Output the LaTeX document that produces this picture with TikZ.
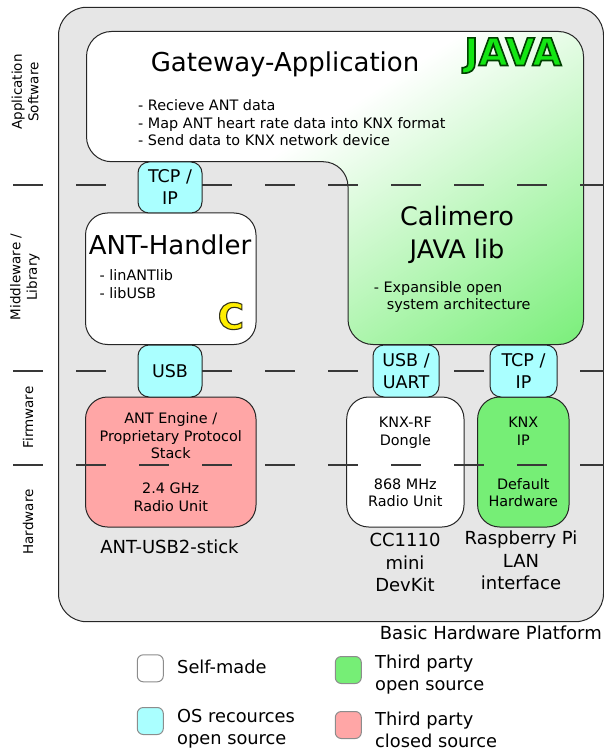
\documentclass[tikz,border=0pt]{standalone}
\usepackage{fontspec}
\setmainfont{DejaVu Sans}

\definecolor{platgray}{RGB}{230,230,230}
\definecolor{oscyan}{RGB}{170,255,255}
\definecolor{opengreen}{RGB}{118,238,118}
\definecolor{closedred}{RGB}{255,166,166}
\definecolor{javabright}{RGB}{20,230,20}
\definecolor{cyellow}{RGB}{255,238,0}

\pgfdeclareverticalshading{javafade}{100bp}{color(0bp)=(opengreen); color(14bp)=(opengreen); color(58bp)=(white); color(100bp)=(white)}

% text drawn filled and stroked
\newcommand{\outlined}[3]{\special{pdf:literal direct 2 Tr #1 w #2 RG}#3\special{pdf:literal direct 0 Tr}}

\begin{document}
\begin{tikzpicture}[x=1pt, y=-1pt,
    sysbox/.style={draw=black!85, line width=1pt, rounded corners=22pt, align=center, font=\fontsize{14.4}{17.5}\selectfont},
    osbox/.style={draw=black!85, line width=1pt, fill=oscyan, rounded corners=11pt, minimum width=64pt, minimum height=52pt, align=center, inner sep=0pt, font=\fontsize{17.5}{22}\selectfont},
    keybox/.style={draw=black!45, line width=1pt, rounded corners=6pt, minimum width=26pt, minimum height=27pt, inner sep=0pt},
    layerline/.style={draw=black!78, line width=1.6pt, dash pattern=on 30pt off 33pt},
    sidetext/.style={rotate=90, align=center, inner sep=0pt, font=\fontsize{13.5}{16.5}\selectfont},
    notetext/.style={align=left, inner sep=0pt, font=\fontsize{14.4}{17.5}\selectfont},
    titletext/.style={align=center, inner sep=0pt, font=\fontsize{26}{33}\selectfont},
    devlabel/.style={align=center, inner sep=0pt, font=\fontsize{18}{22.5}\selectfont},
    keytext/.style={align=left, anchor=west, inner sep=0pt, font=\fontsize{17.8}{22}\selectfont}]
  \useasboundingbox (0,0) rectangle (604,751);

  % Basic hardware platform
  \draw[line width=1pt, draw=black!85, fill=platgray, rounded corners=28pt] (58.5,7.3) rectangle (603.5,621.7);

  % Application + Calimero (JAVA)
  \path[draw=black!85, line width=1pt, shade, shading=javafade, shading angle=33, rounded corners=25pt]
    (86.5,31.5) -- (583.5,31.5) -- (583.5,344.5) -- (348,344.5) -- (348,161.7) -- (86.5,161.7) -- cycle;
  \node[titletext, anchor=base] (gateway) at (285,71.7) {Gateway-Application};
  \node[notetext, anchor=west] (gwtasks) at (138,122.7) {- Recieve ANT data\\- Map ANT heart rate data into KNX format\\- Send data to KNX network device};
  \node[inner sep=0pt, text=javabright, font=\fontsize{38}{38}\selectfont\bfseries] (java) at (513,55.5) {\outlined{1.6}{0 0.25 0}{JAVA}};
  \node[titletext, font=\fontsize{25.5}{33}\selectfont] (calimero) at (457,234.5) {Calimero\\JAVA lib};
  \node[notetext, anchor=west] (calitasks) at (373.6,297) {- Expansible open\\\hspace{13pt}system architecture};

  % ANT-Handler (C)
  \node[sysbox, fill=white, minimum width=170.5pt, minimum height=131.5pt] (handler) at (170.75,278.75) {};
  \node[titletext] (handlertitle) at (170,245) {ANT-Handler};
  \node[notetext, anchor=west] (handlerlibs) at (99.4,284) {- linANTlib\\- libUSB};
  \node[inner sep=0pt, text=cyellow, font=\fontsize{36}{36}\selectfont\bfseries] (clang) at (231,316) {\outlined{1.1}{0.2 0.2 0.1}{C}};

  % Firmware / Hardware
  \node[sysbox, fill=closedred, minimum width=170.5pt, minimum height=130pt] (antengine) at (170.75,462) {ANT Engine /\\Proprietary Protocol\\Stack\\[17.5pt]2.4 GHz\\Radio Unit};
  \node[sysbox, fill=white, minimum width=117.3pt, minimum height=130pt] (knxrf) at (405.35,462) {KNX-RF\\Dongle\\[26.5pt]868 MHz\\Radio Unit};
  \node[sysbox, fill=opengreen, minimum width=91.4pt, minimum height=130pt] (knxip) at (523.3,462) {KNX\\IP\\[26.5pt]Default\\Hardware};

  % layer borders
  \foreach \ly in {185,371,465}
    \draw[layerline] (13,\ly) -- (604,\ly);

  % OS resources
  \node[osbox, minimum height=51pt] (tcptop) at (170,187.5) {TCP /\\IP};
  \node[osbox] (usbant) at (170,371) {USB};
  \node[osbox, minimum width=66pt] (usbuart) at (406,371) {USB /\\UART};
  \node[osbox, minimum width=67pt] (tcpknx) at (523.5,371) {TCP /\\IP};

  % devices
  \node[devlabel] (antstick) at (169.5,547) {ANT-USB2-stick};
  \node[devlabel] (devkit) at (405,562.8) {CC1110\\mini\\DevKit};
  \node[devlabel] (raspi) at (521,560.5) {Raspberry Pi\\LAN\\interface};
  \node[devlabel, anchor=east] (platname) at (602,633) {Basic Hardware Platform};

  % layers
  \node[sidetext] (appsw) at (25,92) {Application\\Software};
  \node[sidetext] (midlib) at (25,277) {Middleware /\\Library};
  \node[sidetext] (firmw) at (28,417.5) {Firmware};
  \node[sidetext] (hardw) at (28,522) {Hardware};

  % legend
  \node[keybox, fill=white] (keyself) at (150.3,668.3) {};
  \node[keybox, fill=oscyan] (keyos) at (150.3,721) {};
  \node[keybox, fill=opengreen] (keyopen) at (348.3,670) {};
  \node[keybox, fill=closedred] (keyclosed) at (348.3,725) {};
  \node[keytext] (txtself) at (177,666.7) {Self-made};
  \node[keytext] (txtos) at (177,729) {OS recources\\open source};
  \node[keytext] (txtopen) at (375,675) {Third party\\open source};
  \node[keytext] (txtclosed) at (375,730) {Third party\\closed source};
\end{tikzpicture}
\end{document}
